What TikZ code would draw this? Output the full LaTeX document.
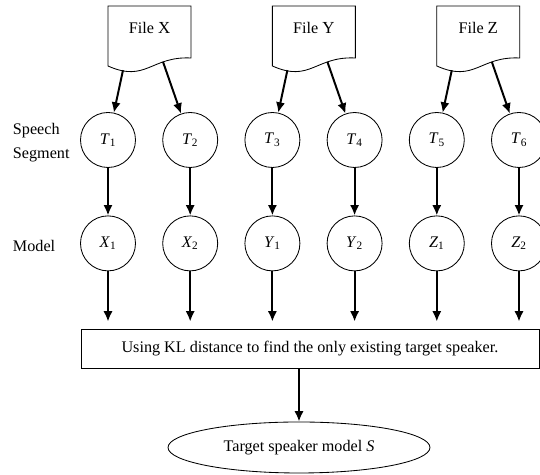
\documentclass[tikz,border=0pt]{standalone}
\usepackage{fontspec}
\setmainfont{Liberation Serif}
\usetikzlibrary{shapes,arrows.meta}

\tikzset{
	seg/.style={draw,circle,line width=0.6pt,minimum size=1.375cm,inner sep=0pt},
	flow/.style={->,line width=1.4pt},
}

\begin{document}
\begin{tikzpicture}[>={Latex[length=2.6mm,width=2.3mm]},font=\fontsize{11.5}{13}\selectfont]
	\useasboundingbox (0,0) rectangle (13.5cm,11.875cm);
	% the three recordings, drawn as documents with a wavy bottom
	\foreach \f/\xl in {X/2.7,Y/6.81,Z/10.92} {
		\draw[line width=0.6pt] (\xl cm,11.725cm) -- (\xl cm+2.075cm,11.725cm) -- (\xl cm+2.075cm,10.425cm)
			.. controls (\xl cm+1.075cm,10.475cm) and (\xl cm+0.95cm,9.8cm) .. (\xl cm,10.225cm) -- cycle;
		\node (f\f) at (\xl cm+1.0375cm,11.175cm) {File {\large\f}};
		\coordinate (f\f-l) at (\xl cm+0.375cm,10.12cm);
		\coordinate (f\f-r) at (\xl cm+1.375cm,10.33cm);
	}
	\node[align=left,anchor=west,font=\fontsize{11.5}{17}\selectfont] (seglbl) at (0.2cm,8.3cm) {Speech\\Segment};
	\node[anchor=west] (mdllbl) at (0.2cm,5.725cm) {Model};
	\node[draw,line width=0.6pt,minimum width=11.45cm,minimum height=0.975cm] (kl) at (7.75cm,3.1625cm)
		{Using KL distance to find the only existing target speaker.};
	\node[draw,ellipse,line width=0.6pt,minimum width=6.55cm,minimum height=1.275cm,inner sep=0pt] (spk) at (7.475cm,0.6875cm)
		{Target speaker model \textit{S}};
	% segments and their models
	\foreach \i/\x/\f/\k/\s in {1/2.7/X/1/l,2/4.755/X/2/r,3/6.81/Y/1/l,4/8.865/Y/2/r,5/10.92/Z/1/l,6/12.975/Z/2/r} {
		\node[seg] (t\i) at (\x cm,8.375cm) {\textit{T}\textsubscript{\i}};
		\node[seg] (m\i) at (\x cm,5.79cm) {\textit{\f}\textsubscript{\k}};
		\draw[flow] (f\f-\s) -- (t\i);
		\draw[flow] (t\i) -- (m\i);
		\draw[flow,shorten >=0.175cm] (m\i) -- (m\i |- kl.north);
	}
	\draw[flow] (kl.south -| spk) -- (spk);
\end{tikzpicture}
\end{document}
